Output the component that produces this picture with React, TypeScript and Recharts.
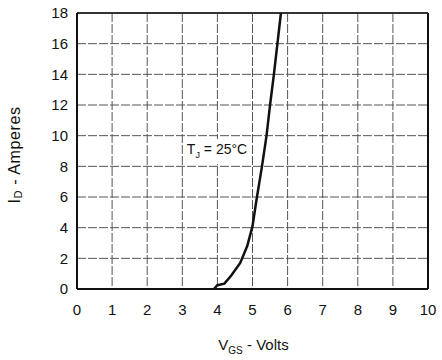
import React from "react";
import {
  LineChart,
  Line,
  XAxis,
  YAxis,
  CartesianGrid,
  ReferenceLine,
  ReferenceDot,
} from "recharts";

// Transfer characteristic: drain current vs gate-source voltage
const vgs = [3.9, 4.0, 4.2, 4.4, 4.65, 4.85, 5.0, 5.12, 5.27, 5.4, 5.5, 5.61, 5.81];
const idAmps = [0, 0.25, 0.35, 0.9, 1.7, 2.8, 4.1, 5.9, 8, 10, 12, 14, 18];

const xTicks = [0, 1, 2, 3, 4, 5, 6, 7, 8, 9, 10];
const yTicks = [0, 2, 4, 6, 8, 10, 12, 14, 16, 18];

const tempLabelAt = { x: 3.13, y: 8.8 };

const data = vgs.map((v, i) => ({ vgs: v, id: idAmps[i] }));

const FONT = "'Liberation Sans', Arial, sans-serif";

const YLabel = (props: any) => {
  const vb = props.viewBox || {};
  const cy = vb.y + vb.height / 2 + 4;
  const cx = 14;
  return (
    <text
      x={cx}
      y={cy}
      transform={`rotate(-90 ${cx} ${cy})`}
      textAnchor="middle"
      dominantBaseline="central"
      fontFamily={FONT}
      fontSize={16}
      letterSpacing={0.6}
      fill="#111"
    >
      I
      <tspan fontSize={11} dy={4}>D</tspan>
      <tspan dy={-4}> - Amperes</tspan>
    </text>
  );
};

const XLabel = (props: any) => {
  const vb = props.viewBox || {};
  const cx = vb.x + vb.width / 2;
  return (
    <text
      x={cx + 1}
      y={350}
      textAnchor="middle"
      fontFamily={FONT}
      fontSize={15}
      fill="#111"
    >
      V
      <tspan fontSize={10} dy={4}>GS</tspan>
      <tspan dy={-4}> - Volts</tspan>
    </text>
  );
};

const TempLabel = (props: any) => {
  const vb = props.viewBox || {};
  const x = vb.x + (vb.width || 0) / 2;
  const y = vb.y + (vb.height || 0) / 2;
  return (
    <g>
      <rect x={x - 3} y={y - 15} width={68} height={25} fill="#fff" />
      <text x={x} y={y} fontFamily={FONT} fontSize={14} fill="#111">
        T
        <tspan fontSize={9} dy={4}>J</tspan>
        <tspan dy={-4}> = 25°C</tspan>
      </text>
    </g>
  );
};

export default function App() {
  return (
    <div style={{ position: "absolute", left: 0, top: 0, background: "#fff" }}>
      <LineChart
        width={442}
        height={360}
        data={data}
        margin={{ top: 13, right: 14, left: 37, bottom: 41 }}
      >
        <CartesianGrid stroke="#555" strokeWidth={1} strokeDasharray="9 2" />
        <XAxis
          dataKey="vgs"
          type="number"
          domain={[0, 10]}
          ticks={xTicks}
          interval={0}
          tickSize={0}
          tickMargin={15}
          height={30}
          axisLine={{ stroke: "#111", strokeWidth: 2 }}
          tickLine={false}
          tick={{ fill: "#111", fontSize: 15, fontFamily: FONT }}
          label={<XLabel />}
        />
        <YAxis
          type="number"
          domain={[0, 18]}
          ticks={yTicks}
          interval={0}
          width={40}
          tickSize={0}
          tickMargin={9}
          axisLine={{ stroke: "#111", strokeWidth: 2 }}
          tickLine={false}
          tick={{ fill: "#111", fontSize: 15, fontFamily: FONT }}
          label={<YLabel />}
        />
        <ReferenceLine x={10} stroke="#111" strokeWidth={2} />
        <ReferenceLine y={18} stroke="#333" strokeWidth={2} />
        <Line
          dataKey="id"
          type="linear"
          stroke="#111"
          strokeWidth={2.5}
          dot={false}
          isAnimationActive={false}
        />
        <ReferenceDot
          x={tempLabelAt.x}
          y={tempLabelAt.y}
          r={0}
          fill="none"
          stroke="none"
          label={<TempLabel />}
        />
      </LineChart>
    </div>
  );
}
